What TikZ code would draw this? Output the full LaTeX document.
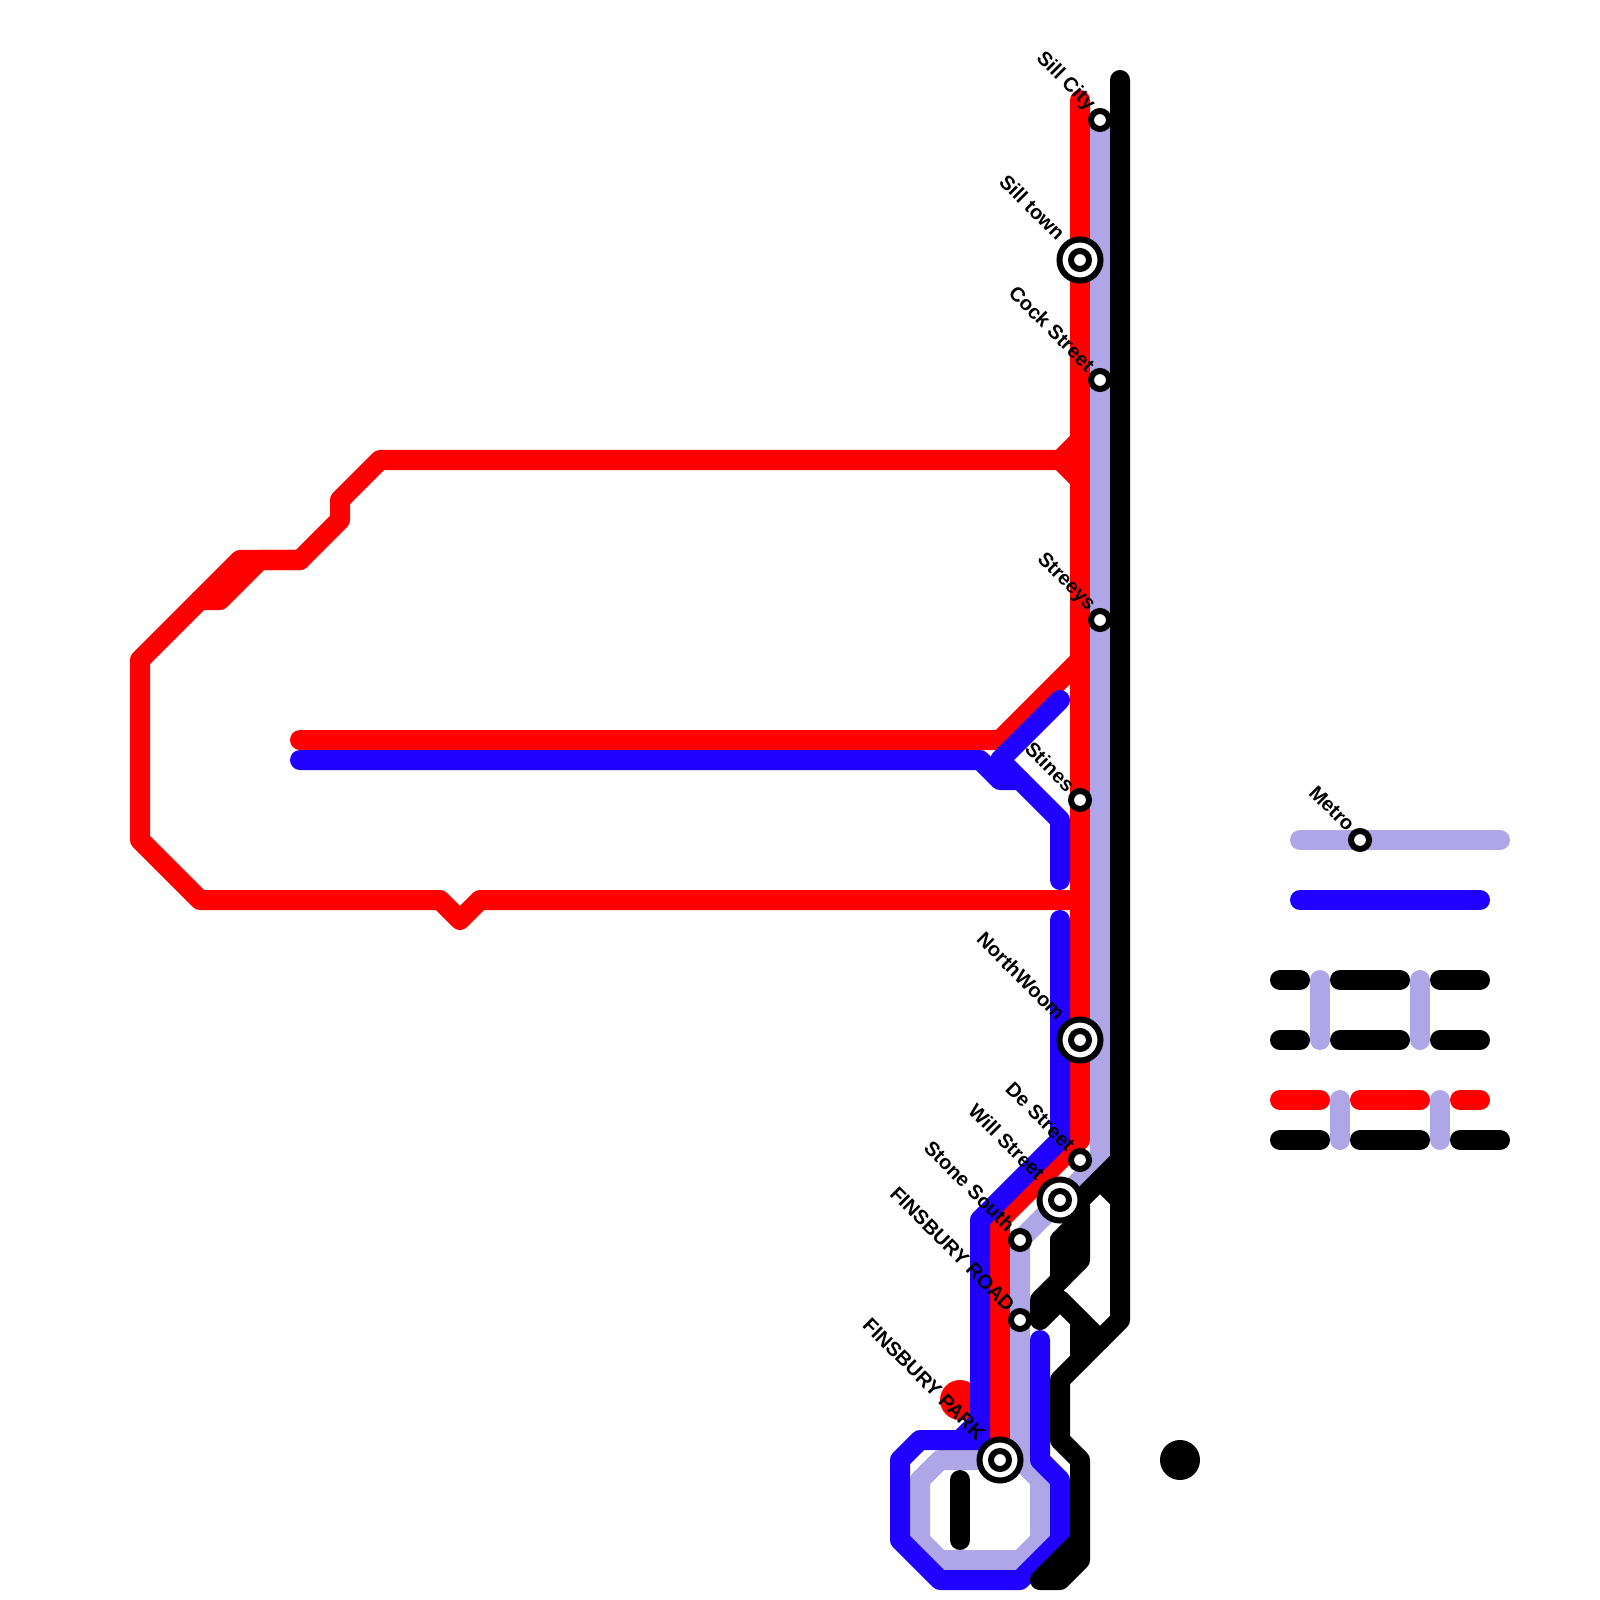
\documentclass[tikz,border=0pt]{standalone}
\usepackage{xcolor}
\usepackage{fontspec}
\setmainfont{Liberation Sans}
\usepackage{tikz}
\usetikzlibrary{calc}
\definecolor{metrolilac}{HTML}{AEA6E6}
\definecolor{metroblue}{HTML}{2000FF}
\tikzset{
  metroline/.style={line width=0.2cm, line cap=round, line join=round},
  redline/.style={metroline, draw=red},
  lilacline/.style={metroline, draw=metrolilac},
  blueline/.style={metroline, draw=metroblue},
  blackline/.style={metroline, draw=black},
  smallstop/.style={draw, circle, fill=white, line width=0.06cm,
                    minimum size=0.18cm, inner sep=0pt},
  bigstop/.style={draw, circle, fill=white, line width=0.06cm,
                  minimum size=0.41cm, inner sep=0pt},
  stoplabel/.style={rotate=-45, anchor=east, inner sep=0pt,
                    font=\fontsize{5.7pt}{7pt}\selectfont\bfseries,
                    xshift=-0.14cm, yshift=0.025cm},
  bigstoplabel/.style={stoplabel, xshift=-0.15cm, yshift=0.01cm}
}
\begin{document}
\begin{tikzpicture}[x=0.01cm, y=-0.01cm]
    \useasboundingbox (0,0) rectangle (1600,1600);

    % Red blob
    \fill[red] (960,1400) circle (20);

    % Red line
    \draw[redline] (1080,100) -- (1080,1140) -- (1000,1220) -- (1000,1460);
    \draw[redline] (1080,440) -- (1060,460) -- (1080,480);
    \draw[redline] (1060,460) -- (380,460) -- (340,500) -- (340,520)
      -- (300,560) -- (240,560) -- (140,660) -- (140,840) -- (200,900)
      -- (440,900) -- (460,920) -- (480,900) -- (1080,900);
    \draw[redline] (300,560) -- (260,560) -- (220,600) -- (200,600);
    \draw[redline] (300,740) -- (1000,740) -- (1080,660);

    % Lilac line
    \draw[lilacline] (1100,120) -- (1100,1160) -- (1020,1240) -- (1020,1460)
      -- (1040,1480) -- (1040,1540) -- (1020,1560) -- (940,1560)
      -- (920,1540) -- (920,1480) -- (940,1460) -- (1020,1460);

    % Blue line
    \draw[blueline] (300,760) -- (980,760) -- (1000,780) -- (1020,780)
      -- (1060,820) -- (1060,880);
    \draw[blueline] (1060,700) -- (1000,760) -- (1020,780);
    \draw[blueline] (1060,920) -- (1060,1140) -- (980,1220) -- (980,1440)
      -- (920,1440) -- (900,1460) -- (900,1540) -- (940,1580)
      -- (1020,1580) -- (1060,1540) -- (1060,1480) -- (1040,1460) -- (1040,1340);
    \draw[blueline] (980,1420) -- (960,1440);

    % Black line
    \draw[blackline] (1120,80) -- (1120,1320) -- (1060,1380) -- (1060,1440)
      -- (1080,1460) -- (1080,1560) -- (1060,1580) -- (1040,1580) -- (1080,1540);
    \draw[blackline] (1120,1160) -- (1080,1200) -- (1080,1260) -- (1040,1300)
      -- (1040,1320) -- (1060,1300) -- (1100,1340);
    \draw[blackline] (1100,1180) -- (1120,1200);
    \draw[blackline] (1060,1240) -- (1080,1220);
    \draw[blackline] (1060,1240) -- (1060,1280);
    \draw[blackline] (1080,1320) -- (1080,1360);
    \draw[blackline] (960,1480) -- (960,1540);
    \fill (1180,1460) circle (20);

    % Legend
    \draw[lilacline] (1300,840) -- (1500,840);
    \draw[blueline] (1300,900) -- (1480,900);
    \draw[blackline] (1280,980) -- (1300,980);
    \draw[blackline] (1340,980) -- (1400,980);
    \draw[blackline] (1440,980) -- (1480,980);
    \draw[blackline] (1280,1040) -- (1300,1040);
    \draw[blackline] (1340,1040) -- (1400,1040);
    \draw[blackline] (1440,1040) -- (1480,1040);
    \draw[lilacline] (1320,980) -- (1320,1040);
    \draw[lilacline] (1420,980) -- (1420,1040);
    \draw[redline] (1280,1100) -- (1320,1100);
    \draw[redline] (1360,1100) -- (1420,1100);
    \draw[redline] (1460,1100) -- (1480,1100);
    \draw[blackline] (1280,1140) -- (1320,1140);
    \draw[blackline] (1360,1140) -- (1420,1140);
    \draw[blackline] (1460,1140) -- (1500,1140);
    \draw[lilacline] (1340,1100) -- (1340,1140);
    \draw[lilacline] (1440,1100) -- (1440,1140);

    % Stops
    \node[smallstop] (sillcity) at (1100,120) {};
    \node[bigstop] (silltownout) at (1080,260) {};
    \node[smallstop] (silltown) at (silltownout) {};
    \node[smallstop] (cockst) at (1100,380) {};
    \node[smallstop] (streeys) at (1100,620) {};
    \node[smallstop] (stines) at (1080,800) {};
    \node[bigstop] (northwoomout) at (1080,1040) {};
    \node[smallstop] (northwoom) at (northwoomout) {};
    \node[smallstop] (dest) at (1080,1160) {};
    \node[bigstop] (willstout) at (1060,1200) {};
    \node[smallstop] (willst) at (willstout) {};
    \node[smallstop] (stonesouth) at (1020,1240) {};
    \node[smallstop] (finsroad) at (1020,1320) {};
    \node[bigstop] (finsparkout) at (1000,1460) {};
    \node[smallstop] (finspark) at (finsparkout) {};
    \node[smallstop] (metro) at (1360,840) {};

    % Stop names
    \node[stoplabel] (sillcitylbl) at (sillcity) {Sill City};
    \node[bigstoplabel] (silltownlbl) at (silltown) {Sill town};
    \node[stoplabel] (cockstlbl) at (cockst) {Cock Street};
    \node[stoplabel] (streeyslbl) at (streeys) {Streeys};
    \node[stoplabel] (stineslbl) at (stines) {Stines};
    \node[bigstoplabel] (northwoomlbl) at (northwoom) {NorthWoom};
    \node[stoplabel] (destlbl) at (dest) {De Street};
    \node[bigstoplabel] (willstlbl) at (willst) {Will Street};
    \node[stoplabel] (stonesouthlbl) at (stonesouth) {Stone South};
    \node[stoplabel] (finsroadlbl) at (finsroad) {FINSBURY ROAD};
    \node[bigstoplabel] (finsparklbl) at (finspark) {FINSBURY PARK};
    \node[stoplabel] (metrolbl) at (metro) {Metro};
\end{tikzpicture}
\end{document}
